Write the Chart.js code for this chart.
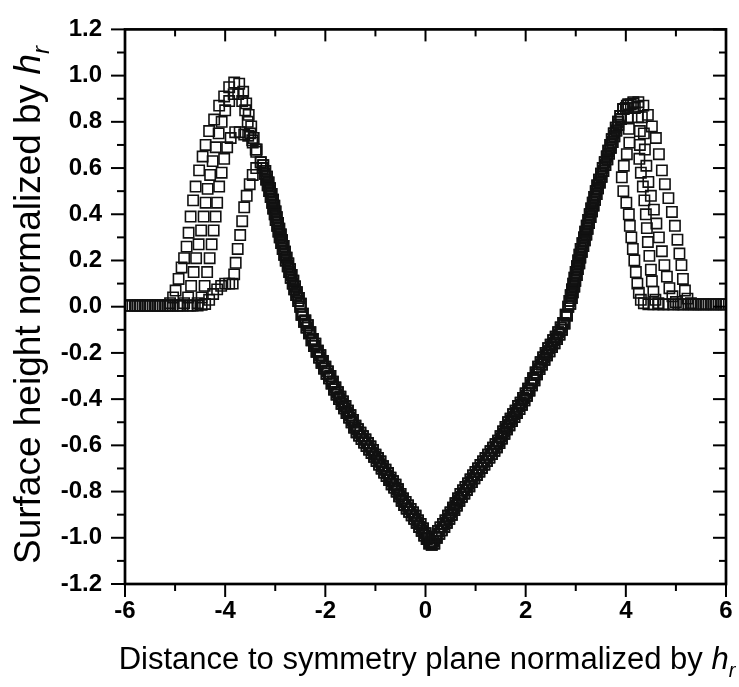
<!DOCTYPE html>
<html>
<head>
<meta charset="utf-8">
<script src="https://cdn.jsdelivr.net/npm/chart.js@4.4.1/dist/chart.umd.min.js"></script>
<style>
  body { margin: 0; background: #fff; }
  canvas { display: block; }
</style>
</head>
<body>
<canvas id="myChart" width="739" height="687"></canvas>
<script>
// axis ticks
const xTicks = [-6, -4, -2, 0, 2, 4, 6];
const xMinor = [-5, -3, -1, 1, 3, 5];
const yTicks = [-1.2, -1.0, -0.8, -0.6, -0.4, -0.2, 0.0, 0.2, 0.4, 0.6, 0.8, 1.0, 1.2];
const yTickLabels = ['-1.2', '-1.0', '-0.8', '-0.6', '-0.4', '-0.2', '0.0', '0.2', '0.4', '0.6', '0.8', '1.0', '1.2'];
const yMinor = [-1.1, -0.9, -0.7, -0.5, -0.3, -0.1, 0.1, 0.3, 0.5, 0.7, 0.9, 1.1];

// groove shared by the profiles (upper edge of the band)
const descentX = [-3.29, -3.25, -3.21, -3.18, -3.15, -3.12, -3.09, -3.06, -3.04, -3.01, -2.99, -2.96, -2.935, -2.91, -2.88, -2.85, -2.82, -2.79, -2.75, -2.72, -2.69, -2.65, -2.62, -2.58, -2.54];
const descentY = [0.625, 0.60, 0.575, 0.55, 0.525, 0.50, 0.475, 0.45, 0.425, 0.40, 0.375, 0.35, 0.325, 0.30, 0.275, 0.25, 0.225, 0.20, 0.175, 0.15, 0.125, 0.10, 0.075, 0.05, 0.025];
const vLeftX = [-2.50, -2.45, -2.40, -2.35, -2.30, -2.25, -2.20, -2.15, -2.10, -2.05, -2.00, -1.95, -1.90, -1.85, -1.80, -1.75, -1.70, -1.65, -1.60, -1.55, -1.50, -1.45, -1.40, -1.35, -1.30, -1.25, -1.20, -1.15, -1.10, -1.05, -1.00, -0.95, -0.90, -0.85, -0.80, -0.75, -0.70, -0.65, -0.60, -0.55, -0.50, -0.45, -0.40, -0.35, -0.30, -0.25, -0.20, -0.15, -0.10, -0.05, 0.00, 0.05, 0.10];
const vLeftY = [0.00, -0.03, -0.06, -0.08, -0.11, -0.14, -0.16, -0.19, -0.21, -0.235, -0.26, -0.28, -0.30, -0.325, -0.35, -0.37, -0.39, -0.41, -0.43, -0.45, -0.47, -0.49, -0.515, -0.53, -0.545, -0.56, -0.575, -0.59, -0.605, -0.62, -0.64, -0.655, -0.67, -0.69, -0.705, -0.72, -0.74, -0.755, -0.77, -0.79, -0.81, -0.83, -0.845, -0.86, -0.875, -0.89, -0.905, -0.925, -0.94, -0.96, -0.98, -1.00, -1.02];
const vRightX = [0.15, 0.20, 0.25, 0.30, 0.35, 0.40, 0.45, 0.50, 0.55, 0.60, 0.65, 0.70, 0.75, 0.80, 0.85, 0.90, 0.95, 1.00, 1.05, 1.10, 1.15, 1.20, 1.25, 1.30, 1.35, 1.40, 1.45, 1.50, 1.55, 1.60, 1.65, 1.70, 1.75, 1.80, 1.85, 1.90, 1.95, 2.00, 2.05, 2.10, 2.15, 2.20, 2.25, 2.30, 2.35, 2.40, 2.45, 2.50, 2.55, 2.60, 2.65, 2.70, 2.75, 2.80, 2.85];
const vRightY = [-1.015, -0.995, -0.97, -0.955, -0.94, -0.925, -0.905, -0.89, -0.87, -0.85, -0.83, -0.81, -0.795, -0.78, -0.765, -0.748, -0.73, -0.715, -0.70, -0.685, -0.67, -0.655, -0.64, -0.625, -0.61, -0.595, -0.58, -0.56, -0.54, -0.52, -0.50, -0.485, -0.465, -0.45, -0.43, -0.415, -0.395, -0.375, -0.355, -0.33, -0.31, -0.285, -0.26, -0.24, -0.22, -0.20, -0.18, -0.165, -0.145, -0.13, -0.11, -0.09, -0.07, -0.035, 0.00];
const riseX = [2.875, 2.90, 2.925, 2.95, 2.975, 3.00, 3.025, 3.05, 3.075, 3.10, 3.135, 3.165, 3.19, 3.22, 3.25, 3.28, 3.31, 3.34, 3.37, 3.40, 3.43, 3.465, 3.505, 3.54, 3.58, 3.62, 3.65, 3.69, 3.72, 3.76, 3.80, 3.845, 3.89];
const riseY = [0.025, 0.05, 0.075, 0.10, 0.125, 0.15, 0.175, 0.20, 0.225, 0.25, 0.275, 0.30, 0.325, 0.35, 0.375, 0.40, 0.425, 0.45, 0.475, 0.50, 0.525, 0.55, 0.575, 0.60, 0.625, 0.65, 0.675, 0.70, 0.725, 0.75, 0.775, 0.80, 0.825];

// groove, lower edge of the band (profiles 2 and 4)
const descent2X = [-3.24, -3.20, -3.165, -3.135, -3.105, -3.075, -3.045, -3.02, -2.995, -2.97, -2.945, -2.92, -2.89, -2.865, -2.835, -2.805, -2.775, -2.74, -2.705, -2.675, -2.64, -2.605, -2.57, -2.53, -2.49];
const descent2Y = [0.6125, 0.5875, 0.5625, 0.5375, 0.5125, 0.4875, 0.4625, 0.4375, 0.4125, 0.3875, 0.3625, 0.3375, 0.3125, 0.2875, 0.2625, 0.2375, 0.2125, 0.1875, 0.1625, 0.1375, 0.1125, 0.0875, 0.0625, 0.0375, 0.0125];
const vLeft2X = [-2.475, -2.425, -2.375, -2.325, -2.275, -2.225, -2.175, -2.125, -2.075, -2.025, -1.975, -1.925, -1.875, -1.825, -1.775, -1.725, -1.675, -1.625, -1.575, -1.525, -1.475, -1.425, -1.375, -1.325, -1.275, -1.225, -1.175, -1.125, -1.075, -1.025, -0.975, -0.925, -0.875, -0.825, -0.775, -0.725, -0.675, -0.625, -0.575, -0.525, -0.475, -0.425, -0.375, -0.325, -0.275, -0.225, -0.175, -0.125, -0.075, -0.025, 0.025, 0.075];
const vLeft2Y = [-0.035, -0.065, -0.09, -0.115, -0.145, -0.17, -0.195, -0.22, -0.243, -0.268, -0.29, -0.31, -0.333, -0.358, -0.38, -0.40, -0.42, -0.44, -0.46, -0.48, -0.50, -0.523, -0.543, -0.558, -0.573, -0.588, -0.603, -0.618, -0.633, -0.65, -0.668, -0.683, -0.70, -0.718, -0.733, -0.75, -0.768, -0.783, -0.80, -0.82, -0.84, -0.858, -0.873, -0.888, -0.903, -0.918, -0.935, -0.953, -0.97, -0.99, -1.005, -1.025];
const vRight2X = [0.125, 0.175, 0.225, 0.275, 0.325, 0.375, 0.425, 0.475, 0.525, 0.575, 0.625, 0.675, 0.725, 0.775, 0.825, 0.875, 0.925, 0.975, 1.025, 1.075, 1.125, 1.175, 1.225, 1.275, 1.325, 1.375, 1.425, 1.475, 1.525, 1.575, 1.625, 1.675, 1.725, 1.775, 1.825, 1.875, 1.925, 1.975, 2.025, 2.075, 2.125, 2.175, 2.225, 2.275, 2.325, 2.375, 2.425, 2.475, 2.525, 2.575, 2.625, 2.675, 2.725, 2.775, 2.825];
const vRight2Y = [-1.03, -1.025, -1.00, -0.983, -0.968, -0.953, -0.935, -0.918, -0.90, -0.88, -0.86, -0.84, -0.823, -0.808, -0.793, -0.777, -0.759, -0.743, -0.728, -0.713, -0.698, -0.683, -0.668, -0.653, -0.638, -0.623, -0.608, -0.59, -0.57, -0.55, -0.53, -0.513, -0.495, -0.478, -0.46, -0.443, -0.425, -0.405, -0.385, -0.363, -0.34, -0.318, -0.293, -0.27, -0.25, -0.23, -0.21, -0.193, -0.175, -0.158, -0.14, -0.12, -0.10, -0.073, -0.038];
const rise2X = [2.89, 2.92, 2.94, 2.97, 2.99, 3.02, 3.04, 3.07, 3.09, 3.12, 3.15, 3.18, 3.21, 3.235, 3.265, 3.295, 3.325, 3.355, 3.385, 3.415, 3.445, 3.48, 3.515, 3.55, 3.59, 3.63, 3.665, 3.70, 3.735, 3.77, 3.81, 3.85, 3.90];
const rise2Y = [0.0125, 0.0375, 0.0625, 0.0875, 0.1125, 0.1375, 0.1625, 0.1875, 0.2125, 0.2375, 0.2625, 0.2875, 0.3125, 0.3375, 0.3625, 0.3875, 0.4125, 0.4375, 0.4625, 0.4875, 0.5125, 0.5375, 0.5625, 0.5875, 0.6125, 0.6375, 0.6625, 0.6875, 0.7125, 0.7375, 0.7625, 0.7875, 0.8125];

// left ridge, one per profile
const leftX1 = [-6.0, -5.8, -5.6, -5.4, -5.2, -5.1, -5.04, -4.99, -4.93, -4.87, -4.82, -4.77, -4.73, -4.69, -4.64, -4.59, -4.52, -4.45, -4.39, -4.32, -4.22, -4.12, -4.02, -3.92, -3.82, -3.72, -3.64, -3.58, -3.53, -3.48, -3.43, -3.37];
const leftY1 = [0.005, 0.005, 0.005, 0.005, 0.005, 0.015, 0.04, 0.07, 0.12, 0.17, 0.21, 0.26, 0.32, 0.39, 0.46, 0.52, 0.59, 0.65, 0.70, 0.76, 0.81, 0.87, 0.91, 0.95, 0.97, 0.965, 0.93, 0.88, 0.83, 0.78, 0.73, 0.68];
const leftX2 = [-5.95, -5.75, -5.55, -5.35, -5.15, -4.95, -4.82, -4.74, -4.68, -4.63, -4.58, -4.53, -4.48, -4.43, -4.39, -4.35, -4.30, -4.25, -4.19, -4.13, -4.07, -4.00, -3.92, -3.83, -3.74, -3.66, -3.60, -3.55, -3.50, -3.45, -3.38];
const leftY2 = [0.005, 0.005, 0.005, 0.005, 0.005, 0.005, 0.015, 0.04, 0.09, 0.15, 0.21, 0.27, 0.33, 0.39, 0.45, 0.51, 0.57, 0.63, 0.69, 0.75, 0.80, 0.85, 0.89, 0.92, 0.92, 0.89, 0.85, 0.80, 0.75, 0.71, 0.67];
const leftX3 = [-5.9, -5.7, -5.5, -5.3, -5.1, -4.9, -4.7, -4.55, -4.47, -4.41, -4.36, -4.31, -4.27, -4.23, -4.19, -4.16, -4.12, -4.07, -4.02, -3.96, -3.89, -3.80, -3.71, -3.62, -3.54, -3.46, -3.39];
const leftY3 = [0.005, 0.005, 0.005, 0.005, 0.005, 0.005, 0.005, 0.015, 0.04, 0.09, 0.15, 0.21, 0.27, 0.33, 0.39, 0.45, 0.52, 0.58, 0.64, 0.69, 0.73, 0.755, 0.755, 0.745, 0.74, 0.72, 0.68];
const leftX4 = [-5.85, -5.75, -5.65, -5.55, -5.45, -5.35, -5.25, -5.15, -5.05, -4.95, -4.85, -4.75, -4.65, -4.55, -4.47, -4.40, -4.32, -4.24, -4.16, -4.08, -4.00, -3.92, -3.85, -3.82, -3.79, -3.75, -3.70, -3.66, -3.62, -3.57, -3.51, -3.45, -3.38];
const leftY4 = [0.005, 0.005, 0.005, 0.005, 0.005, 0.005, 0.005, 0.005, 0.005, 0.005, 0.005, 0.005, 0.005, 0.005, 0.008, 0.012, 0.03, 0.055, 0.075, 0.09, 0.10, 0.10, 0.10, 0.14, 0.19, 0.25, 0.31, 0.37, 0.43, 0.48, 0.53, 0.57, 0.60];

// right ridge, one per profile
const rightX1 = [3.95, 4.05, 4.15, 4.25, 4.35, 4.44, 4.52, 4.60, 4.66, 4.72, 4.78, 4.85, 4.92, 4.98, 5.03, 5.07, 5.11, 5.14, 5.18, 5.23, 5.30, 5.40, 5.60, 5.80, 6.00];
const rightY1 = [0.855, 0.875, 0.885, 0.885, 0.87, 0.83, 0.78, 0.73, 0.66, 0.59, 0.53, 0.47, 0.41, 0.35, 0.29, 0.23, 0.18, 0.12, 0.07, 0.035, 0.015, 0.01, 0.01, 0.01, 0.01];
const rightX2 = [3.95, 4.05, 4.15, 4.25, 4.32, 4.36, 4.38, 4.41, 4.45, 4.50, 4.56, 4.61, 4.66, 4.72, 4.77, 4.82, 4.87, 4.93, 5.00, 5.10, 5.30, 5.50, 5.70, 5.90];
const rightY2 = [0.855, 0.875, 0.88, 0.865, 0.82, 0.75, 0.68, 0.61, 0.54, 0.48, 0.42, 0.36, 0.30, 0.24, 0.18, 0.13, 0.08, 0.045, 0.02, 0.01, 0.01, 0.01, 0.01, 0.01];
const rightX3 = [3.95, 4.02, 4.10, 4.18, 4.24, 4.28, 4.28, 4.27, 4.30, 4.34, 4.37, 4.40, 4.42, 4.44, 4.47, 4.50, 4.52, 4.55, 4.59, 4.65, 4.75, 4.95, 5.15, 5.35, 5.55, 5.75, 5.95];
const rightY3 = [0.855, 0.87, 0.875, 0.86, 0.82, 0.76, 0.70, 0.64, 0.58, 0.52, 0.46, 0.40, 0.34, 0.28, 0.22, 0.16, 0.11, 0.065, 0.03, 0.015, 0.01, 0.01, 0.01, 0.01, 0.01, 0.01, 0.01];
const rightX4 = [3.95, 4.00, 4.04, 4.06, 4.07, 4.02, 3.96, 3.92, 3.95, 4.01, 4.06, 4.08, 4.11, 4.14, 4.17, 4.20, 4.23, 4.26, 4.30, 4.36, 4.45, 4.55, 4.65, 4.75, 4.85, 4.95, 5.05, 5.15, 5.25, 5.35, 5.45, 5.55, 5.65, 5.75, 5.85, 5.95];
const rightY4 = [0.855, 0.86, 0.82, 0.77, 0.71, 0.66, 0.61, 0.56, 0.50, 0.45, 0.40, 0.35, 0.30, 0.25, 0.20, 0.15, 0.10, 0.06, 0.03, 0.015, 0.01, 0.01, 0.01, 0.01, 0.01, 0.01, 0.01, 0.01, 0.01, 0.01, 0.01, 0.01, 0.01, 0.01, 0.01, 0.01];

const lefts = [[leftX1, leftY1], [leftX2, leftY2], [leftX3, leftY3], [leftX4, leftY4]];
const rights = [[rightX1, rightY1], [rightX2, rightY2], [rightX3, rightY3], [rightX4, rightY4]];
const grooveA = [descentX.concat(vLeftX, vRightX, riseX), descentY.concat(vLeftY, vRightY, riseY)];
const grooveB = [descent2X.concat(vLeft2X, vRight2X, rise2X), descent2Y.concat(vLeft2Y, vRight2Y, rise2Y)];
const grooves = [grooveA, grooveB, grooveA, grooveB];

function profile(i) {
  const xs = lefts[i][0].concat(grooves[i][0], rights[i][0]);
  const ys = lefts[i][1].concat(grooves[i][1], rights[i][1]);
  return xs.map((x, k) => ({ x: x, y: ys[k] }));
}

const datasets = [0, 1, 2, 3].map(i => ({
  label: 'profile ' + (i + 1),
  data: profile(i),
  pointStyle: 'rect',
  pointRadius: 7.3,
  borderWidth: 1.6,
  borderColor: '#111',
  backgroundColor: 'rgba(0,0,0,0)',
  showLine: false
}));

const FONT = '"Liberation Sans", Arial, Helvetica, sans-serif';

function drawTitle(ctx, parts) {
  let w = 0;
  parts.forEach(p => { ctx.font = p.font; p.w = ctx.measureText(p.text).width; w += p.w; });
  let pos = -w / 2;
  parts.forEach(p => {
    ctx.font = p.font;
    ctx.fillText(p.text, pos, p.dy || 0);
    pos += p.w;
  });
}

const frame = {
  id: 'frame',
  afterDraw(chart) {
    const { ctx, chartArea: a, scales: { x, y } } = chart;
    ctx.save();
    ctx.strokeStyle = '#000';
    ctx.lineWidth = 2;
    function line(x1, y1, x2, y2) {
      ctx.beginPath(); ctx.moveTo(x1, y1); ctx.lineTo(x2, y2); ctx.stroke();
    }
    xTicks.forEach(v => {
      const p = x.getPixelForValue(v);
      line(p, a.bottom, p, a.bottom + 13);
      line(p, a.top, p, a.top + 12);
    });
    xMinor.forEach(v => {
      const p = x.getPixelForValue(v);
      line(p, a.bottom, p, a.bottom + 7);
      line(p, a.top, p, a.top + 7);
    });
    yTicks.forEach(v => {
      const p = y.getPixelForValue(v);
      line(a.left - 14, p, a.left, p);
      line(a.right - 13, p, a.right, p);
    });
    yMinor.forEach(v => {
      const p = y.getPixelForValue(v);
      line(a.left - 8, p, a.left, p);
      line(a.right - 7, p, a.right, p);
    });
    ctx.lineWidth = 2.7;
    ctx.strokeRect(a.left, a.top, a.right - a.left, a.bottom - a.top);

    // axis titles with italic h and subscript r
    ctx.fillStyle = '#000';
    ctx.textBaseline = 'alphabetic';
    ctx.textAlign = 'left';
    ctx.save();
    ctx.translate(427, 669);
    drawTitle(ctx, [
      { text: 'Distance to symmetry plane normalized by ', font: '31px ' + FONT },
      { text: 'h', font: 'italic 31px ' + FONT },
      { text: 'r', font: 'italic 20px ' + FONT, dy: 8 }
    ]);
    ctx.restore();
    ctx.save();
    ctx.translate(40, 305);
    ctx.rotate(-Math.PI / 2);
    drawTitle(ctx, [
      { text: 'Surface height normalized by ', font: '37px ' + FONT },
      { text: 'h', font: 'italic 37px ' + FONT },
      { text: 'r', font: 'italic 24px ' + FONT, dy: 9 }
    ]);
    ctx.restore();
    ctx.restore();
  }
};

new Chart(document.getElementById('myChart'), {
  type: 'scatter',
  data: { datasets: datasets },
  options: {
    responsive: false,
    animation: false,
    events: [],
    layout: { padding: { left: 0, top: 21, right: 13, bottom: 0 } },
    plugins: { legend: { display: false }, tooltip: { enabled: false } },
    scales: {
      x: {
        type: 'linear',
        min: -6,
        max: 6,
        afterBuildTicks: s => { s.ticks = xTicks.map(v => ({ value: v })); },
        afterFit: s => { s.height = 103; },
        grid: { display: false },
        border: { display: false },
        ticks: {
          padding: 5,
          color: '#000',
          font: { family: FONT, size: 24, weight: 'bold' },
          callback: v => String(v)
        }
      },
      y: {
        type: 'linear',
        min: -1.2,
        max: 1.2,
        afterBuildTicks: s => { s.ticks = yTicks.map(v => ({ value: v })); },
        afterFit: s => { s.width = 125; },
        grid: { display: false },
        border: { display: false },
        ticks: {
          padding: 15,
          color: '#000',
          font: { family: FONT, size: 24, weight: 'bold' },
          callback: (v, i) => yTickLabels[i]
        }
      }
    }
  },
  plugins: [frame]
});
</script>
</body>
</html>
